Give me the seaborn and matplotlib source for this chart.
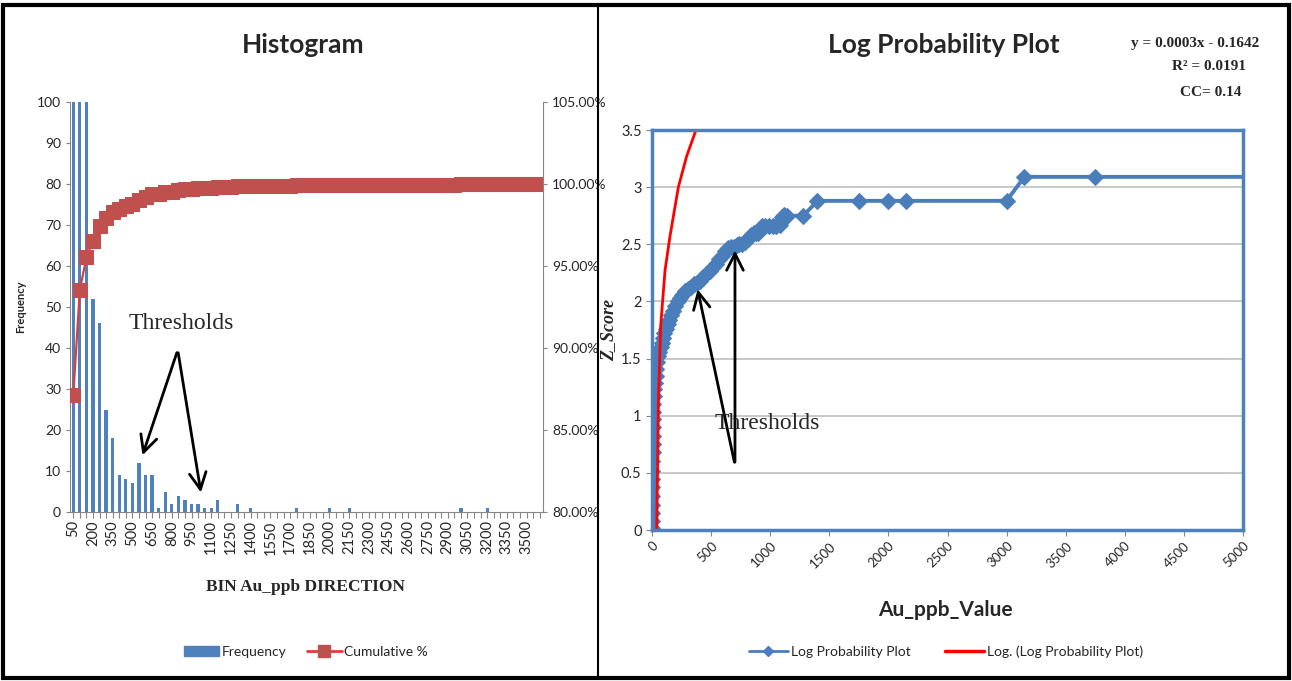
import numpy as np
import pandas as pd
import matplotlib
matplotlib.use("Agg")
import matplotlib.pyplot as plt
import seaborn as sns
from matplotlib.lines import Line2D
from matplotlib.patches import Patch, Rectangle
from matplotlib.ticker import FuncFormatter, MultipleLocator

# ---------------- data ----------------
bin_labels = [str(v) for v in range(50, 3650, 50)]
frequency = [4420, 325, 100, 52, 46, 25, 18, 9, 8, 7,
             12, 9, 9, 1, 5, 2, 4, 3, 2, 2,
             1, 1, 3, 0, 0, 2, 0, 1, 0, 0,
             0, 0, 0, 0, 1, 0, 0, 0, 0, 1,
             0, 0, 1, 0, 0, 0, 0, 0, 0, 0,
             0, 0, 0, 0, 0, 0, 0, 0, 0, 1,
             0, 0, 0, 1, 0, 0, 0, 0, 0, 0,
             0, 0]

prob_value = [1, 1, 2, 2, 2, 3, 3, 4, 4, 5, 5, 6, 7, 8, 10, 12, 15, 19, 24, 30,
              37, 45, 54, 63, 72, 82, 93, 105, 118, 132, 147, 163, 180, 198, 217,
              237, 258, 280, 303, 327, 352, 378, 405, 432, 460, 488, 515, 540, 565,
              590, 615, 640, 665, 690, 716, 740, 765, 790, 815, 840, 860, 880, 900,
              930, 960, 990, 1020, 1050, 1080, 1100, 1120, 1140, 1280, 1400, 1750,
              2000, 2150, 3000, 3150, 3750, 5300]
prob_zscore = [0.02, 0.08, 0.15, 0.22, 0.30, 0.38, 0.45, 0.52, 0.60, 0.68, 0.75, 0.82,
               0.90, 0.97, 1.03, 1.10, 1.17, 1.23, 1.29, 1.35, 1.41, 1.47, 1.52, 1.56,
               1.60, 1.64, 1.68, 1.72, 1.76, 1.80, 1.84, 1.88, 1.92, 1.96, 2.00, 2.03,
               2.06, 2.09, 2.11, 2.13, 2.15, 2.16, 2.18, 2.21, 2.24, 2.27, 2.30, 2.33,
               2.37, 2.40, 2.44, 2.47, 2.48, 2.48, 2.49, 2.50, 2.50, 2.52, 2.55, 2.58,
               2.60, 2.60, 2.60, 2.66, 2.66, 2.66, 2.66, 2.66, 2.67, 2.74, 2.76, 2.75,
               2.75, 2.88, 2.88, 2.88, 2.88, 2.88, 3.09, 3.09, 3.09]

trend_value = [40, 54, 73, 110, 152, 223, 293, 372]
trend_zscore = [0.0, 1.11, 1.78, 2.27, 2.57, 3.00, 3.27, 3.50]

equation_lines = ["y = 0.0003x - 0.1642", "R² = 0.0191", "CC= 0.14"]

# ---------------- style ----------------
sns.set_style("white")
SANS = ["Lato", "DejaVu Sans"]
SERIF = ["Liberation Serif", "DejaVu Serif"]
plt.rcParams["font.family"] = SANS

BLUE = "#4F81BD"
DARKRED = "#C0504D"
GRAY = "#868686"

W, H = 1292, 681
fig = plt.figure(figsize=(W / 100, H / 100), dpi=100)


def fx(px):
    return px / W


def fy(py):
    return 1 - py / H


# ---------------- left: histogram ----------------
ax1 = fig.add_axes([fx(70), fy(512), fx(473), 410 / H])
df_h = pd.DataFrame({"bin": bin_labels, "freq": frequency})
sns.barplot(data=df_h, x="bin", y="freq", order=bin_labels, color=BLUE,
            saturation=1, width=0.5, linewidth=0, ax=ax1)
ax1.set_ylim(0, 100)
ax1.set_xlim(-0.5, len(bin_labels) - 0.5)
ax1.yaxis.set_major_locator(MultipleLocator(10))
ax1.set_xticks(range(len(bin_labels)))
ax1.set_xticklabels([lab if i % 3 == 0 else "" for i, lab in enumerate(bin_labels)],
                    rotation=90, fontsize=10.5)
ax1.tick_params(axis="y", labelsize=10, length=3, color=GRAY, direction="out", left=True)
ax1.tick_params(axis="x", length=4, color=GRAY, direction="out", bottom=True, pad=2)
for s in ["top", "right"]:
    ax1.spines[s].set_visible(False)
for s in ["left", "bottom"]:
    ax1.spines[s].set_color(GRAY)
ax1.set_xlabel("")
ax1.set_ylabel("Frequency", fontsize=8, fontweight="bold", labelpad=8)

cum = np.cumsum(frequency) / np.sum(frequency)
ax2 = ax1.twinx()
sns.lineplot(x=np.arange(len(bin_labels)), y=cum, ax=ax2, color="#D9403C", lw=1.6,
             marker="s", markersize=10, markerfacecolor=DARKRED,
             markeredgecolor=DARKRED, estimator=None, sort=False)
ax2.set_ylim(0.80, 1.05)
ax2.yaxis.set_major_locator(MultipleLocator(0.05))
ax2.yaxis.set_major_formatter(FuncFormatter(lambda v, p: f"{v * 100:.2f}%"))
ax2.tick_params(axis="y", labelsize=10, length=3, color=GRAY, direction="out", right=True)
for s in ["top", "left", "bottom"]:
    ax2.spines[s].set_visible(False)
ax2.spines["right"].set_color(GRAY)
ax2.set_ylabel("")

arrow_kw = dict(arrowstyle="->", lw=2, color="black", mutation_scale=30)
ax1.annotate("", xy=(10.4, 13.2), xytext=(15.9, 39.5), arrowprops=arrow_kw)
ax1.annotate("", xy=(19.5, 4.1), xytext=(15.9, 39.5), arrowprops=arrow_kw)
ax1.text(16.5, 46, "Thresholds", family=SERIF, fontsize=17, ha="center", va="center")

fig.text(fx(303), fy(45), "Histogram", fontsize=19, fontweight="bold",
         ha="center", va="center")
fig.text(fx(306), fy(587), "BIN Au_ppb DIRECTION", family=SERIF, fontsize=12.5,
         fontweight="bold", ha="center", va="center")

left_handles = [Patch(facecolor=BLUE, edgecolor=BLUE),
                Line2D([], [], color="#D9403C", lw=2, marker="s", markersize=8,
                       markerfacecolor=DARKRED, markeredgecolor=DARKRED)]
fig.legend(left_handles, ["Frequency", "Cumulative %"], loc="center",
           bbox_to_anchor=(fx(306), fy(652)), ncol=2, frameon=False, fontsize=10,
           handlelength=2.5, handletextpad=0.2, columnspacing=1.5)

# ---------------- right: log probability plot ----------------
ax3 = fig.add_axes([fx(652), fy(530), fx(591), 400 / H])
sns.lineplot(x=prob_value, y=prob_zscore, ax=ax3, color="#4A7EBB", lw=2.8,
             marker="D", markersize=8, markeredgecolor="#4A7EBB",
             estimator=None, sort=False)
sns.lineplot(x=trend_value, y=trend_zscore, ax=ax3, color="red", lw=2,
             estimator=None, sort=False)
ax3.set_xlim(0, 5000)
ax3.set_ylim(0, 3.5)
ax3.xaxis.set_major_locator(MultipleLocator(500))
ax3.yaxis.set_major_locator(MultipleLocator(0.5))
ax3.yaxis.set_major_formatter(FuncFormatter(lambda v, p: f"{v:g}"))
ax3.yaxis.grid(True, color="#BFBFBF", lw=1.2)
ax3.xaxis.grid(False)
ax3.set_axisbelow(True)
for s in ax3.spines.values():
    s.set_color(BLUE)
    s.set_linewidth(2.5)
ax3.tick_params(axis="x", labelsize=9.5, length=4, color=GRAY, direction="out",
                bottom=True, pad=3)
ax3.tick_params(axis="y", labelsize=10.5, length=4, color=GRAY, direction="out",
                left=True)
for lab in ax3.get_xticklabels():
    lab.set_rotation(45)
    lab.set_ha("right")
    lab.set_va("top")
    lab.set_rotation_mode("anchor")
ax3.set_xlabel("")
ax3.set_ylabel("")

ax3.annotate("", xy=(381, 2.13), xytext=(702, 0.57), arrowprops=arrow_kw)
ax3.annotate("", xy=(702, 2.47), xytext=(702, 0.57), arrowprops=arrow_kw)
ax3.text(973, 0.93, "Thresholds", family=SERIF, fontsize=17, ha="center", va="center")

fig.text(fx(944), fy(45), "Log Probability Plot", fontsize=19, fontweight="bold",
         ha="center", va="center")
fig.text(fx(609), fy(330), "Z_Score", family=SERIF, fontsize=13, fontweight="bold",
         style="italic", rotation=90, ha="center", va="center")
fig.text(fx(945), fy(610), "Au_ppb_Value", fontsize=15, fontweight="bold",
         ha="center", va="center")
for line, xpx, ypx in zip(equation_lines, [1195, 1209, 1211], [43, 67, 92]):
    fig.text(fx(xpx), fy(ypx), line, family=SERIF, fontsize=11, fontweight="bold",
             ha="center", va="center")

right_handles = [Line2D([], [], color="#4A7EBB", lw=2, marker="D", markersize=5),
                 Line2D([], [], color="red", lw=2.5)]
fig.legend(right_handles, ["Log Probability Plot", "Log. (Log Probability Plot)"],
           loc="center", bbox_to_anchor=(fx(946), fy(652)), ncol=2, frameon=False,
           fontsize=10, handlelength=2.8, handletextpad=0.2, columnspacing=2.5)

# ---------------- frame ----------------
fig.add_artist(Rectangle((fx(3), fy(678)), fx(1286), 673 / H, transform=fig.transFigure,
                         fill=False, lw=3, ec="black"))
fig.add_artist(Line2D([fx(598), fx(598)], [fy(678), fy(5)], transform=fig.transFigure,
                      color="black", lw=1.5))

fig.savefig("out.png", dpi=100)
